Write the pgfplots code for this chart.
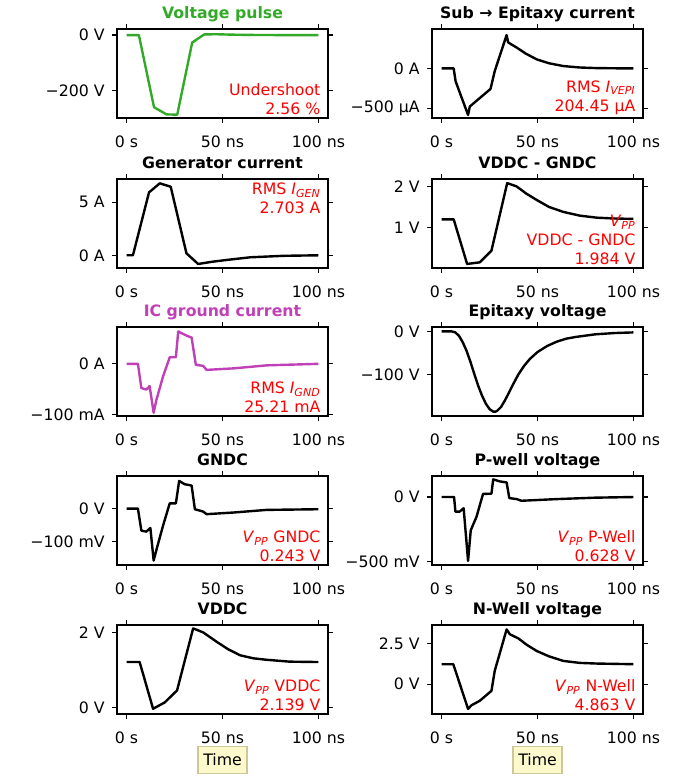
\documentclass[border=0pt]{standalone}
\usepackage{fontspec}
\setmainfont{DejaVu Sans}
\usepackage{pgfplots}
\pgfplotsset{compat=1.18}

\definecolor{pgreen}{RGB}{50,170,40}
\definecolor{pmag}{RGB}{192,64,184}
\definecolor{boxfill}{RGB}{252,250,205}
\definecolor{boxdraw}{RGB}{205,200,150}

\newcommand{\sub}[2]{\textit{#1}\textsubscript{\textit{#2}}}

\tikzset{
  note/.style={anchor=south east, align=right, text=red, inner sep=0pt, xshift=-5.5pt, yshift=2.5pt},
  notetop/.style={anchor=north east, align=right, text=red, inner sep=0pt, xshift=-5.5pt, yshift=-3pt},
}
\pgfplotsset{
  panel/.style={
    scale only axis, width=158.25pt, height=66.75pt, anchor=north west,
    xmin=-5, xmax=105,
    xtick={0,50,100}, xticklabels={0 s,50 ns,100 ns},
    tick align=outside, major tick length=3.75pt,
    axis line style={line width=0.9pt},
    every tick/.style={line width=0.9pt, black},
    font=\fontsize{11.8}{14}\selectfont,
    xticklabel style={yshift=-6pt},
    yticklabel style={xshift=-2pt},
    title style={font=\fontsize{11.8}{14}\selectfont\bfseries, at={(0.5,1)}, anchor=base, yshift=2pt},
    every axis plot/.append style={line width=1.8pt, line join=round, no markers},
  },
  timelabel/.style={xlabel={Time},
    xlabel style={at={(0.5,0)}, anchor=center, yshift=-34.5pt, draw=boxdraw, fill=boxfill,
      line width=0.9pt, inner sep=0pt, minimum width=36.75pt, minimum height=20pt}},
}

\begin{document}
\begin{tikzpicture}
\useasboundingbox (0,0) rectangle (508.5pt,-582.75pt);

% ---- row 1
\begin{axis}[panel, at={(87.75pt,-21.75pt)}, title={\color{pgreen}Voltage pulse},
  ymin=-300, ymax=22, ytick={-200,0}, yticklabels={−200 V,0 V}]
\addplot[pgreen] coordinates {(0,0) (6.4,0) (14.3,-261) (20.8,-287) (26.4,-288) (34.2,-27) (40.5,2.5) (46.9,3) (55,1.5) (65,0.5) (80,0) (100,0)};
\node[note] at (rel axis cs:1,0) {Undershoot\\2.56 \%};
\end{axis}

\begin{axis}[panel, at={(324pt,-21.75pt)}, title={Sub → Epitaxy current},
  ymin=-623, ymax=496, ytick={-500,0}, yticklabels={−500 µA,0 A}]
\addplot[black] coordinates {(0,0) (6.3,0) (7.3,-161) (13.8,-585) (14.7,-479) (18.2,-407) (25.5,-258) (27.7,-34) (33.9,420) (34.7,327) (39.1,263) (44,185) (49.6,114) (56,65) (63.5,30) (72,12) (80,5) (90,2) (100,0)};
\node[note] at (rel axis cs:1,0) {RMS \sub{I}{VEPI}\\204.45 µA};
\end{axis}

% ---- row 2
\begin{axis}[panel, at={(87.75pt,-134.25pt)}, title={Generator current},
  ymin=-1.2, ymax=7.2, ytick={0,5}, yticklabels={0 A,5 A}]
\addplot[black] coordinates {(0,0) (3.3,0) (11.7,5.94) (17.3,6.79) (23,6.47) (31.2,0.19) (37.3,-0.82) (45,-0.6) (52.2,-0.44) (64.4,-0.19) (81.8,-0.05) (100,0)};
\node[notetop] at (rel axis cs:1,1) {RMS \sub{I}{GEN}\\2.703 A};
\end{axis}

\begin{axis}[panel, at={(324pt,-134.25pt)}, title={VDDC - GNDC},
  ymin=0.017, ymax=2.18, ytick={1,2}, yticklabels={1 V,2 V}]
\addplot[black] coordinates {(0,1.2) (6.3,1.2) (13.3,0.115) (19.9,0.155) (26,0.44) (34.2,2.08) (39.1,2.0) (44,1.83) (49.6,1.67) (56,1.5) (63.5,1.38) (72,1.29) (80.9,1.24) (90,1.22) (100,1.21)};
\node[note] at (rel axis cs:1,0) {\sub{V}{PP}\\VDDC - GNDC\\1.984 V};
\end{axis}

% ---- row 3
\begin{axis}[panel, at={(87.75pt,-245.25pt)}, title={\color{pmag}IC ground current},
  ymin=-103.4, ymax=73, ytick={-100,0}, yticklabels={−100 mA,0 A}]
\addplot[pmag] coordinates {(0,0) (5.9,0) (7.7,-48) (10.3,-51) (12,-44) (14.1,-97) (15.5,-72) (19,-25) (22.5,13) (25.7,13) (26.9,64) (31.2,56) (33.9,52) (36.1,-2) (39.9,-4) (41.7,-12) (55.7,-9) (73.1,-3) (100,0)};
\node[note] at (rel axis cs:1,0) {RMS \sub{I}{GND}\\25.21 mA};
\end{axis}

\begin{axis}[panel, at={(324pt,-245.25pt)}, title={Epitaxy voltage},
  ymin=-196, ymax=10, ytick={-100,0}, yticklabels={−100 V,0 V}]
\addplot[black] coordinates {(0,0) (5,0) (7,-2) (9,-10) (11,-25) (13,-45) (15,-70) (17,-98) (19,-125) (21,-148) (23,-167) (25,-180) (27,-186) (28,-186) (29,-184) (31,-175) (33,-160) (35,-143) (37,-125) (40,-100) (43,-80) (46,-64) (50,-48) (55,-34) (60,-24) (65,-17) (70,-13) (80,-7) (90,-4) (100,-2.5)};
\end{axis}

% ---- row 4
\begin{axis}[panel, at={(87.75pt,-357pt)}, title={GNDC},
  ymin=-171.5, ymax=99, ytick={-100,0}, yticklabels={−100 mV,0 V}]
\addplot[black] coordinates {(0,0) (5.9,0) (7.7,-67) (10.3,-70) (12.4,-59) (14.1,-158) (15.9,-118) (19,-52) (22.5,16) (25.7,16) (27.4,84) (30.3,74) (33.9,70) (35.6,-2) (39.9,-9) (41.7,-17) (55.7,-12) (73,-4) (100,-2)};
\node[note] at (rel axis cs:1,0) {\sub{V}{PP} GNDC\\0.243 V};
\end{axis}

\begin{axis}[panel, at={(324pt,-357pt)}, title={P-well voltage},
  ymin=-527, ymax=163, ytick={-500,0}, yticklabels={−500 mV,0 V}]
\addplot[black] coordinates {(0,0) (6.5,0) (7.2,-113) (9.4,-113) (11.5,-87) (13.8,-495) (15.2,-258) (18.2,-153) (21.6,24) (26,26) (26.9,137) (30.4,121) (33.9,113) (35.3,-8) (39.1,-16) (41.7,-29) (60,-16) (80,-5) (100,0)};
\node[note] at (rel axis cs:1,0) {\sub{V}{PP} P-Well\\0.628 V};
\end{axis}

% ---- row 5
\begin{axis}[panel, timelabel, at={(87.75pt,-468.75pt)}, title={VDDC},
  ymin=-0.18, ymax=2.2, ytick={0,2}, yticklabels={0 V,2 V}]
\addplot[black] coordinates {(0,1.21) (6.8,1.21) (13.8,-0.04) (19.9,0.13) (26.3,0.45) (34.7,2.11) (40,2.0) (47,1.75) (53,1.55) (59.2,1.39) (66,1.31) (73,1.27) (85,1.22) (100,1.21)};
\node[note] at (rel axis cs:1,0) {\sub{V}{PP} VDDC\\2.139 V};
\end{axis}

\begin{axis}[panel, timelabel, at={(324pt,-468.75pt)}, title={N-Well voltage},
  ymin=-1.83, ymax=3.62, ytick={0,2.5}, yticklabels={0 V,2.5 V}]
\addplot[black] coordinates {(0,1.22) (6.1,1.22) (13.8,-1.52) (15.5,-1.3) (19.9,-1.02) (26,-0.41) (27.7,0.81) (33.9,3.35) (35.6,3.05) (40,2.8) (44.5,2.4) (49.6,2.03) (56,1.7) (63.5,1.42) (72,1.3) (80.9,1.26) (100,1.22)};
\node[note] at (rel axis cs:1,0) {\sub{V}{PP} N-Well\\4.863 V};
\end{axis}
\end{tikzpicture}
\end{document}
